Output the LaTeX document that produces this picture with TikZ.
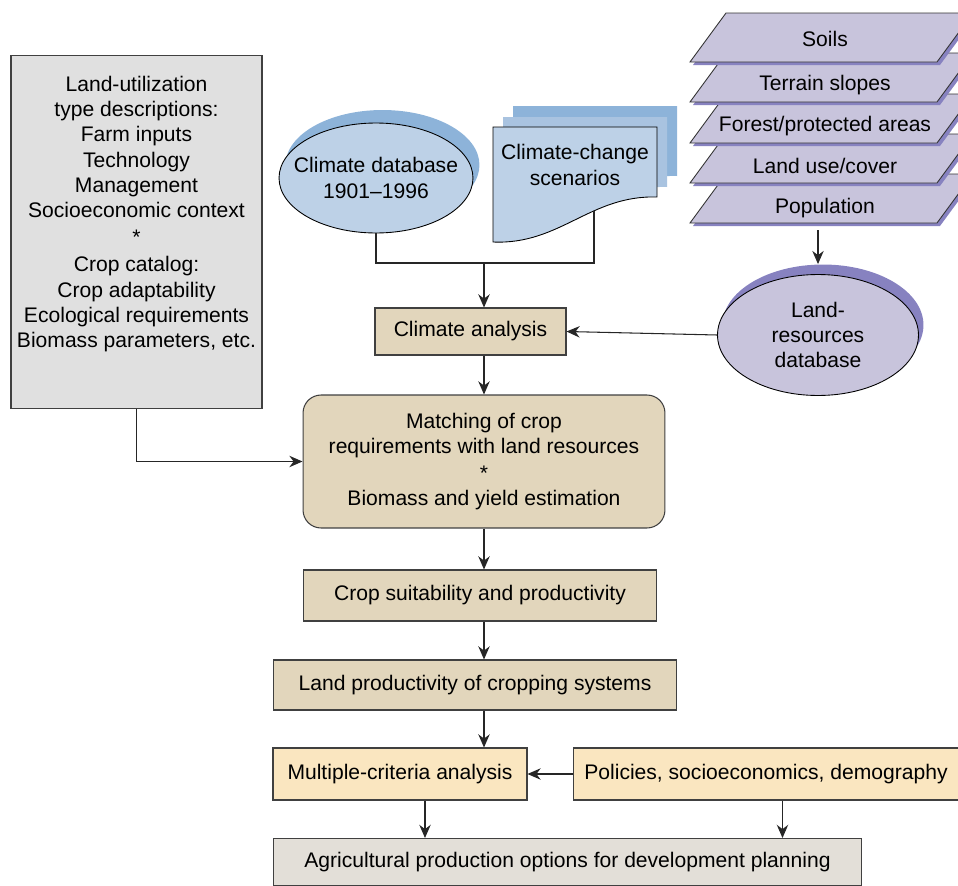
\documentclass[tikz,border=0pt]{standalone}
\usepackage{fontspec}
\setmainfont{Liberation Sans}
\usetikzlibrary{arrows.meta,shapes.geometric,shadows}

\definecolor{edgegray}{HTML}{404040}
\definecolor{lutgray}{HTML}{E0E0E0}
\definecolor{tanbox}{HTML}{E2D6BC}
\definecolor{creambox}{HTML}{FAE6C0}
\definecolor{greybeige}{HTML}{E3DFD8}
\definecolor{climblue}{HTML}{BDD1E7}
\definecolor{climshade}{HTML}{8DB3D9}
\definecolor{sheetmid}{HTML}{A9C3E0}
\definecolor{landlilac}{HTML}{C8C4DC}
\definecolor{landshade}{HTML}{8782C0}

\begin{document}
\begin{tikzpicture}[x=0.02cm, y=-0.02cm, font=\fontsize{12}{14.4}\selectfont,
    >={Stealth[length=7.5pt,width=6.5pt]},
    every node/.style={align=center},
    box/.style={draw=edgegray, line width=0.6pt, inner sep=2pt},
    tanstep/.style={box, fill=tanbox},
    creamstep/.style={box, fill=creambox},
    dbase/.style={ellipse, draw=black, line width=0.5pt, inner sep=0pt},
    link/.style={draw=black!85, line width=0.6pt}]
    \useasboundingbox (0,0) rectangle (958,886);

    % Land-utilization types and crop catalog
    \node[box, fill=lutgray, anchor=north, minimum width=5.02cm, minimum height=7.06cm] (lut) at (136.5,55)
        {Land-utilization\\type descriptions:\\Farm inputs\\Technology\\Management\\Socioeconomic context\\[1pt]{*}\\[1pt]Crop catalog:\\Crop adaptability\\Ecological requirements\\Biomass parameters, etc.\\[0.3cm]\mbox{}};

    % Climate inputs
    \node[dbase, fill=climblue, inner xsep=-0.29cm, minimum width=3.88cm, minimum height=2.2cm,
        copy shadow={draw=none, fill=climshade, shadow xshift=0.13cm, shadow yshift=0.26cm}] (climdb) at (376,178)
        {Climate database\\1901--1996};
    \fill[climshade, shift={(20,-21)}] (493,127) -- (657,127) -- (657,197) .. controls (590,195) and (560,245) .. (493,242) -- cycle;
    \fill[sheetmid, shift={(10,-10)}] (493,127) -- (657,127) -- (657,197) .. controls (590,195) and (560,245) .. (493,242) -- cycle;
    \filldraw[fill=climblue, draw=black, line width=0.5pt] (493,127) -- (657,127) -- (657,197) .. controls (590,195) and (560,245) .. (493,242) -- cycle;
    \node (scen) at (575,165) {Climate-change\\scenarios};
    \coordinate (scenfoot) at (594,211);

    % Land-resources layers (bottom one first)
    \foreach \ly/\ty/\txt/\nm in {174/208/Population/pop, 134/166/{Land use/cover}/cover, 94/126/{Forest/protected areas}/forest, 53/85/{Terrain slopes}/slopes, 13/39/Soils/soils}{
        \fill[landshade, shift={(3,3)}] (690,\ly+49) -- (726,\ly) -- (973,\ly) -- (937,\ly+49) -- cycle;
        \filldraw[fill=landlilac, draw=black!80, line width=0.5pt] (690,\ly+49) -- (726,\ly) -- (973,\ly) -- (937,\ly+49) -- cycle;
        \node (\nm) at (825,\ty) {\txt};
    }
    \coordinate (popfoot) at (818,230);
    \node[dbase, fill=landlilac, minimum width=4.02cm, minimum height=2.42cm,
        copy shadow={draw=none, fill=landshade, shadow xshift=0.1cm, shadow yshift=0.2cm}] (lrdb) at (818,335)
        {Land-\\resources\\database};

    % Main chain
    \coordinate (spine) at (484,263);
    \node[tanstep, minimum width=3.82cm, minimum height=0.94cm] (clim) at (470.5,331.5) {Climate analysis};
    \node[tanstep, rounded corners=0.36cm, minimum width=7.24cm, minimum height=2.66cm] (match) at (484,461.5)
        {Matching of crop\\requirements with land resources\\[1pt]{*}\\Biomass and yield estimation};
    \node[tanstep, minimum width=7.08cm, minimum height=1.02cm] (suit) at (480,595.5) {Crop suitability and productivity};
    \node[tanstep, minimum width=8.08cm, minimum height=1.0cm] (prod) at (475,685) {Land productivity of cropping systems};
    \node[creamstep, minimum width=5.08cm, minimum height=1.04cm] (mca) at (400,774) {Multiple-criteria analysis};
    \node[creamstep, minimum width=7.7cm, minimum height=1.04cm] (policy) at (766,774) {Policies, socioeconomics, demography};
    \node[box, fill=greybeige, minimum width=11.78cm, minimum height=0.94cm] (options) at (567.5,862)
        {Agricultural production options for development planning};

    % Connectors
    \draw[link] (climdb.south) |- (scenfoot |- spine) -- (scenfoot);
    \draw[link, ->] (spine) -- (spine |- clim.north);
    \draw[link, ->] (popfoot) -- ([yshift=0.2cm]lrdb.north);
    \draw[link, ->] (lrdb.west) -- (clim.east);
    \draw[link, ->] (spine |- clim.south) -- (spine |- match.north);
    \draw[link, ->] (lut.south) |- (match.west);
    \draw[link, ->] (spine |- match.south) -- (spine |- suit.north);
    \draw[link, ->] (spine |- suit.south) -- (spine |- prod.north);
    \draw[link, ->] (spine |- prod.south) -- (spine |- mca.north);
    \draw[link, ->] (policy.west) -- (mca.east);
    \draw[link, ->] ([xshift=0.5cm]mca.south) -- ([xshift=0.5cm]mca.south |- options.north);
    \draw[link, ->] ([xshift=0.33cm]policy.south) -- ([xshift=0.33cm]policy.south |- options.north);
\end{tikzpicture}
\end{document}
